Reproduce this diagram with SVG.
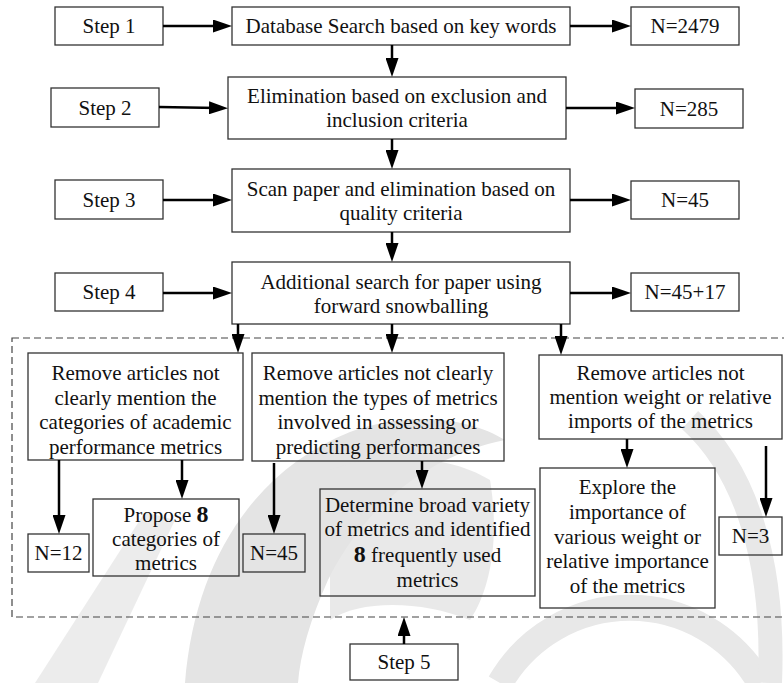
<svg xmlns="http://www.w3.org/2000/svg" width="784" height="683" viewBox="0 0 784 683" font-family="Liberation Serif, Times New Roman, serif">
  <style>
    .box { fill: none; stroke: #333; stroke-width: 1.3; }
    .t { font-size: 21px; fill: #111; text-anchor: middle; }
    .b { font-weight: bold; font-size: 24px; }
    .conn line { stroke: #000; stroke-width: 2.5; marker-end: url(#ah); }
    .dash { fill: none; stroke: #444; stroke-width: 1.2; stroke-dasharray: 7 4; }
    .wm { fill: #e4e4e4; stroke: none; }
    .wms { fill: none; stroke: #e8e8e8; }
  </style>
  <defs>
    <marker id="ah" markerUnits="userSpaceOnUse" markerWidth="19" markerHeight="13" refX="9" refY="6.5" orient="auto">
      <path d="M0,0 L19,6.5 L0,13 Z" fill="#000"/>
    </marker>
  </defs>

  <rect x="0" y="0" width="784" height="683" fill="#fff"/>

  <!-- faint background emblem -->
  <g id="emblem">
    <path class="wm" d="M185,683 C195,560 255,470 350,432 C410,410 470,418 505,440 C430,455 365,505 328,580 C310,620 300,655 298,683 Z"/>
    <path class="wm" d="M330,470 C380,450 450,455 490,480 C500,540 490,590 470,620 C420,600 360,600 330,620 Z" opacity="0.8"/>
    <path class="wm" d="M35,683 L98,683 L175,520 L145,512 Z" opacity="0.7"/>
    <path class="wms" d="M500,683 A150,150 0 0 1 760,683" stroke-width="26"/>
    <path class="wms" d="M690,420 C745,470 775,560 770,683" stroke-width="24"/>
  </g>

  <!-- dashed frame of step 5 -->
  <rect id="step5-frame" class="dash" x="12" y="338" width="790" height="279"/>

  <g id="step1"><rect class="box" x="55" y="7" width="108" height="38"/><text class="t" x="109" y="33">Step 1</text></g>
  <g id="search"><rect class="box" x="232" y="7" width="338" height="38"/><text class="t" x="401" y="33">Database Search based on key words</text></g>
  <g id="n2479"><rect class="box" x="631" y="7" width="108" height="38"/><text class="t" x="685" y="33">N=2479</text></g>

  <g id="step2"><rect class="box" x="51" y="88" width="108" height="39"/><text class="t" x="105" y="114.5">Step 2</text></g>
  <g id="elimination"><rect class="box" x="228" y="77" width="338" height="62"/>
    <text class="t" x="397" y="103">Elimination based on exclusion and</text>
    <text class="t" x="397" y="126.5">inclusion criteria</text></g>
  <g id="n285"><rect class="box" x="635" y="89" width="108" height="39"/><text class="t" x="689" y="115.5">N=285</text></g>

  <g id="step3"><rect class="box" x="55" y="180" width="108" height="39"/><text class="t" x="109" y="206.5">Step 3</text></g>
  <g id="scan"><rect class="box" x="232" y="169" width="338" height="63"/>
    <text class="t" x="401" y="196">Scan paper and elimination based on</text>
    <text class="t" x="401" y="219.5">quality criteria</text></g>
  <g id="n45a"><rect class="box" x="631" y="181" width="108" height="38"/><text class="t" x="685" y="207">N=45</text></g>

  <g id="step4"><rect class="box" x="55" y="273" width="108" height="38"/><text class="t" x="109" y="299">Step 4</text></g>
  <g id="snowball"><rect class="box" x="232" y="262" width="338" height="62"/>
    <text class="t" x="401" y="289">Additional search for paper using</text>
    <text class="t" x="401" y="313">forward snowballing</text></g>
  <g id="n4517"><rect class="box" x="631" y="273" width="108" height="38"/><text class="t" x="685" y="299">N=45+17</text></g>

  <g id="categories"><rect class="box" x="28" y="353" width="215" height="107"/>
    <text class="t" x="135.5" y="380">Remove articles not</text>
    <text class="t" x="135.5" y="404.5">clearly mention the</text>
    <text class="t" x="135.5" y="429">categories of academic</text>
    <text class="t" x="135.5" y="453.5">performance metrics</text></g>
  <g id="types"><rect class="box" x="252" y="353" width="252" height="108"/>
    <text class="t" x="378" y="380">Remove articles not clearly</text>
    <text class="t" x="378" y="404.5">mention the types of metrics</text>
    <text class="t" x="378" y="429">involved in assessing or</text>
    <text class="t" x="378" y="453.5">predicting performances</text></g>
  <g id="weight"><rect class="box" x="539" y="355" width="243" height="84"/>
    <text class="t" x="660.5" y="380">Remove articles not</text>
    <text class="t" x="660.5" y="404">mention weight or relative</text>
    <text class="t" x="660.5" y="428">imports of the metrics</text></g>

  <g id="n12"><rect class="box" x="28" y="534" width="61" height="38"/><text class="t" x="58.5" y="560">N=12</text></g>
  <g id="propose"><rect class="box" x="93" y="499" width="146" height="77"/>
    <text class="t" x="166" y="522">Propose <tspan class="b">8</tspan></text>
    <text class="t" x="166" y="546">categories of</text>
    <text class="t" x="166" y="570">metrics</text></g>
  <g id="n45b"><rect class="box" x="243" y="534" width="62" height="38"/><text class="t" x="274" y="560">N=45</text></g>
  <g id="determine"><rect class="box" x="320" y="489" width="215" height="107"/>
    <text class="t" x="427.5" y="512">Determine broad variety</text>
    <text class="t" x="427.5" y="536">of metrics and identified</text>
    <text class="t" x="427.5" y="562"><tspan class="b">8</tspan> frequently used</text>
    <text class="t" x="427.5" y="587">metrics</text></g>
  <g id="explore"><rect class="box" x="540" y="468" width="175" height="140"/>
    <text class="t" x="627.5" y="494">Explore the</text>
    <text class="t" x="627.5" y="519">importance of</text>
    <text class="t" x="627.5" y="544">various weight or</text>
    <text class="t" x="627.5" y="568">relative importance</text>
    <text class="t" x="627.5" y="593">of the metrics</text></g>
  <g id="n3"><rect class="box" x="719" y="517" width="63" height="38"/><text class="t" x="750.5" y="543">N=3</text></g>

  <g id="step5"><rect class="box" x="350" y="644" width="108" height="36"/><text class="t" x="404" y="669">Step 5</text></g>

  <g id="connectors" class="conn">
    <line x1="163" y1="26" x2="222" y2="26"/>
    <line x1="570" y1="26" x2="621" y2="26"/>
    <line x1="392" y1="45" x2="392" y2="67"/>
    <line x1="159" y1="107" x2="218" y2="108"/>
    <line x1="566" y1="108" x2="625" y2="108"/>
    <line x1="392" y1="139" x2="392" y2="159"/>
    <line x1="163" y1="200" x2="222" y2="200"/>
    <line x1="570" y1="200" x2="621" y2="200"/>
    <line x1="392" y1="232" x2="392" y2="252"/>
    <line x1="163" y1="293" x2="222" y2="293"/>
    <line x1="570" y1="293" x2="621" y2="293"/>
    <line x1="238" y1="324" x2="238" y2="343"/>
    <line x1="392" y1="324" x2="392" y2="343"/>
    <line x1="561" y1="324" x2="561" y2="345"/>
    <line x1="59" y1="460" x2="59" y2="524"/>
    <line x1="182" y1="460" x2="182" y2="489"/>
    <line x1="274" y1="463" x2="274" y2="524"/>
    <line x1="422" y1="461" x2="422" y2="479"/>
    <line x1="627" y1="439" x2="627" y2="458"/>
    <line x1="766" y1="446" x2="766" y2="507"/>
    <line x1="404" y1="644" x2="404" y2="627"/>
  </g>
</svg>
